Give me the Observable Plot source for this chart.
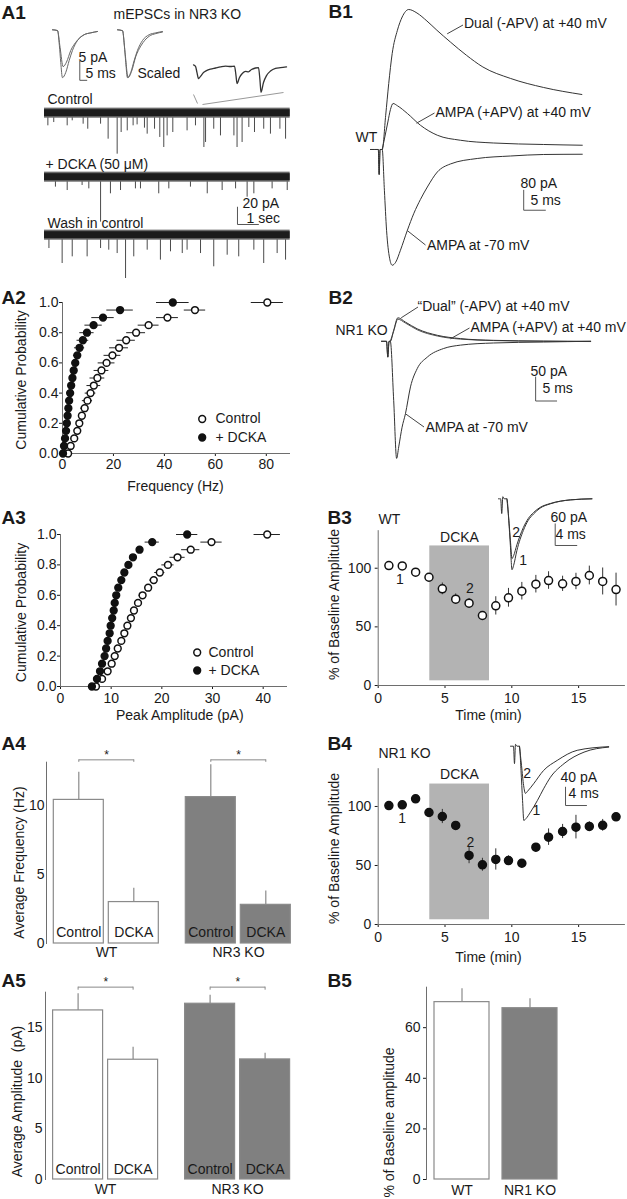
<!DOCTYPE html>
<html><head><meta charset="utf-8">
<script src="https://cdn.jsdelivr.net/npm/d3@7"></script>
<script src="https://cdn.jsdelivr.net/npm/@observablehq/plot@0.6"></script>
<style>
html,body{margin:0;padding:0;background:#fff;}
#fig{position:relative;width:627px;height:1199px;overflow:hidden;background:#fff;}
</style></head><body><div id="fig"></div>
<script>
// ================= DATA =================
// A1 average mEPSC (ms, pA)
const a1CtrlT = [0, 3.6, 4.9, 5.9, 7.1, 9.5, 11.9, 14.3, 17.9, 22.6, 27.4, 32.1];
const a1CtrlI = [0, -0.2, -4.1, -8.6, -12.6, -11.2, -8.1, -5.4, -2.8, -1.3, -0.8, -0.45];
const a1DckaT = [0, 3.6, 5.4, 7.6, 10.0, 13.1, 16.6, 22.6, 27.4, 32.1];
const a1DckaI = [0, -0.2, -4.6, -9.7, -8.5, -5.4, -3.3, -1.3, -0.8, -0.45];
const a1ScaledI = [0, -0.26, -6.0, -12.6, -11.0, -7.0, -4.3, -1.7, -1.0, -0.6];
// A1 expanded segment (ms, pA)
const a1ExpT = [0, 2, 3.5, 5, 7, 10, 13, 17, 22, 27, 32, 37, 41, 42.5, 43.5, 46, 49, 52, 55, 58, 62, 65, 66.5, 67.5, 70, 73, 77, 82, 87, 93];
const a1ExpI = [0.4, 0, -1.6, -3.2, -2.6, -1.6, -1.1, -0.7, -0.4, -0.1, 0.1, 0, 0.1, -2.4, -4.5, -2.9, -1.8, -1.3, -1.4, -0.8, -0.4, -0.3, -3.7, -6.8, -4.2, -2.4, -1.2, -0.5, -0.3, -0.1];
// A1 continuous recordings: event times (s) and amplitudes (pA)
const a1Duration = 11.7, a1Noise = 4;
const a1CtrlEvT = [0.16, 0.44, 1.08, 1.32, 1.84, 2.06, 2.67, 3.03, 3.46, 3.65, 3.94, 4.22, 4.41, 4.76, 4.89, 5.24, 5.49, 5.68, 5.84, 6.11, 6.79, 7.19, 7.59, 7.67, 8.06, 8.38, 9.02, 9.17, 9.41, 9.73, 10.0, 10.44, 10.76, 11.21, 11.48];
const a1CtrlEvA = [14.6, 10.8, 14.6, 8.8, 12.7, 18.5, 12.7, 30, 47.3, 22.3, 20.4, 14.6, 13.5, 17.3, 24.2, 18.5, 28, 39.6, 26.2, 22.3, 20.4, 14.6, 39.6, 33.8, 18.5, 26.2, 26.2, 39.6, 33.8, 16.5, 22.3, 18.5, 24.2, 18.5, 30];
const a1DckaEvT = [0.52, 1.08, 1.79, 2.11, 2.67, 3.14, 3.62, 4.33, 4.57, 5.44, 5.92, 6.95, 7.75, 8.46, 9.10, 9.65, 9.97, 10.84, 11.56];
const a1DckaEvA = [11.5, 15.4, 9.6, 13.5, 51.9, 19.2, 15.4, 13.5, 13.5, 19.2, 13.5, 11.5, 19.2, 15.4, 13.5, 23.1, 19.2, 13.5, 15.4];
const a1WashEvT = [0.21, 0.84, 1.32, 2.03, 2.67, 3.06, 3.46, 3.86, 4.25, 4.89, 5.52, 6.0, 6.56, 6.79, 7.43, 8.06, 8.70, 9.25, 9.97, 10.44, 11.08, 11.48];
const a1WashEvA = [15.4, 32.7, 25, 25, 15.4, 17.3, 21.2, 50, 25, 17.3, 28.8, 19.2, 21.2, 17.3, 21.2, 36.5, 23.1, 25, 17.3, 32.7, 21.2, 28.8];

// B1 WT evoked currents (ms, pA)
const b1DualT = [0, 1.8, 2.0, 2.2, 2.7, 3.5, 4.2, 5.0, 6.2, 7.3, 8.8, 10.7, 13.0, 15.3, 18.4, 22.1, 25.9, 32.3, 39.9, 48.7];
const b1DualI = [0, 0, -100, 0, 0, 137, 264, 384, 477, 530, 560, 546, 514, 477, 430, 377, 330, 284, 248, 220];
const b1AmpaT = [2.7, 3.3, 4.0, 4.6, 5.2, 6.2, 8.5, 11.5, 15.4, 20.7, 28.3, 39.9, 48.8];
const b1AmpaI = [0, 50, 110, 160, 184, 175, 144, 97, 57, 37, 26, 20, 17];
const b1M70T = [0, 1.8, 2.0, 2.2, 2.7, 3.2, 3.7, 4.4, 5.0, 5.8, 6.9, 8.5, 10.0, 11.5, 13.1, 15.4, 18.4, 24.6, 32.3, 39.9, 48.8];
const b1M70I = [0, 0, -100, 0, 0, -163, -323, -435, -463, -451, -403, -323, -255, -200, -150, -90, -58, -36, -26, -20, -19];
// B2 NR1 KO evoked currents (ms, pA)
const b2DualT = [0, 1.2, 1.5, 1.8, 2.1, 2.9, 3.9, 5.7, 8.5, 13.3, 18.8, 26.7, 38.6, 49.8];
const b2DualI = [0, 0, -33, 0, 0, 23, 49, 40, 26, 12.5, 5.6, 2, 0.5, 0];
const b2AmpaT = [2.1, 2.9, 3.9, 5.7, 8.5, 13.3, 18.8, 26.7, 38.6, 49.8];
const b2AmpaI = [0, 21, 46, 38, 24, 11, 4.5, 1.5, 0, -0.5];
const b2M70T = [0, 1.2, 1.5, 1.8, 2.1, 2.9, 3.6, 4.1, 4.9, 5.7, 6.9, 8.5, 10.9, 14.8, 18.8, 26.7, 38.6, 49.8];
const b2M70I = [0, 0, -33, 0, 0, -123, -244, -220, -179, -151, -95, -57, -33, -15, -8, -3.5, -1.5, 0];

// A2 / A3 cumulative distributions
const cumProb = [0, 0.05, 0.1, 0.15, 0.2, 0.25, 0.3, 0.35, 0.4, 0.45, 0.5, 0.55, 0.6, 0.65, 0.7, 0.75, 0.8, 0.85, 0.9, 0.95, 1.0];
const a2CtrlFreq = [2.2, 3.2, 4.6, 5.8, 6.6, 7.6, 8.7, 9.8, 11.0, 12.3, 13.7, 15.3, 17.3, 19.6, 22.2, 25.0, 28.9, 33.8, 41.2, 52.0, 80.4];
const a2CtrlErr = [0.5, 0.6, 0.7, 0.8, 1.0, 1.2, 1.6, 2.0, 2.1, 2.7, 2.9, 2.9, 3.3, 3.3, 3.7, 3.6, 3.7, 4.1, 4.3, 4.2, 6.3];
const a2DckaFreq = [0.2, 0.6, 1.0, 1.4, 1.7, 2.0, 2.3, 2.6, 3.0, 3.4, 3.9, 4.4, 5.0, 5.8, 6.7, 8.0, 9.6, 12.2, 15.9, 22.6, 43.3];
const a2DckaErr = [0.2, 0.3, 0.3, 0.4, 0.4, 0.5, 0.5, 0.6, 0.7, 0.8, 0.9, 1.0, 1.2, 1.5, 2.0, 2.3, 2.8, 3.4, 4.4, 5.2, 6.4];
const a3CtrlAmp = [7.0, 8.2, 9.3, 10.1, 10.7, 11.3, 12.0, 12.6, 13.2, 13.9, 14.5, 15.3, 16.2, 17.3, 18.4, 19.6, 21.2, 23.1, 25.7, 29.8, 40.8];
const a3CtrlErr = [0.3, 0.3, 0.4, 0.4, 0.4, 0.5, 0.5, 0.5, 0.5, 0.6, 0.6, 0.6, 0.7, 0.7, 0.8, 1.0, 1.2, 1.5, 1.8, 2.1, 2.6];
const a3DckaAmp = [6.2, 7.2, 7.8, 8.2, 8.7, 9.0, 9.3, 9.7, 9.9, 10.2, 10.5, 10.7, 11.0, 11.4, 12.0, 12.6, 13.4, 14.3, 15.6, 18.1, 25.0];
const a3DckaErr = [0.2, 0.2, 0.2, 0.2, 0.2, 0.2, 0.2, 0.2, 0.2, 0.2, 0.2, 0.2, 0.2, 0.2, 0.3, 0.3, 0.3, 0.3, 0.4, 1.4, 2.1];

// B3 / B4 time courses
const timeMin = [0.8, 1.8, 2.8, 3.8, 4.8, 5.8, 6.8, 7.8, 8.8, 9.75, 10.75, 11.8, 12.75, 13.8, 14.8, 15.8, 16.8, 17.8];
const b3Amp = [102.3, 102, 96.6, 92.3, 82.4, 73.6, 70.2, 59.7, 67.9, 74.8, 80.4, 86.4, 89.5, 86.7, 88.7, 93.8, 88.7, 81.8];
const b3Err = [1, 1, 1.5, 2, 5, 4.5, 4, 2, 7.8, 8, 7.5, 7.5, 7.5, 6.5, 7, 8, 11.5, 14];
const b4Amp = [100.8, 101.4, 106.5, 94.9, 91.5, 83.9, 58.5, 50.6, 55.1, 54.2, 51.9, 65.5, 74, 78.8, 82.5, 83.1, 84, 91.2];
const b4Err = [3, 3, 2, 3, 6, 3, 7, 5.5, 9, 4, 2, 2, 7, 6, 10, 4, 5, 3];
const dckaStart = 3.86, dckaEnd = 8.33, dckaLo = 4, dckaHi = 119;
// B3 / B4 inset traces (ms, pA)
const b3Tr1T = [0, 0.4, 0.6, 0.8, 1.05, 1.55, 1.9, 2.2, 2.5, 2.8, 3.4, 4.6, 5.5, 6.5, 7.7, 9.6, 13.3, 17.3];
const b3Tr1I = [0, 0, -41, 6, 0, 0, -60, -130, -197, -185, -144, -88, -60, -42, -26, -14, -3, 0];
const b3Tr2T = [1.55, 1.9, 2.2, 2.5, 2.8, 3.4, 4.6, 5.5, 6.5, 7.7, 9.6, 13.3, 17.3];
const b3Tr2I = [0, -55, -115, -166, -158, -128, -80, -55, -38, -24, -13, -3, 0];
const b4Tr1T = [0, 0.57, 0.76, 0.95, 1.24, 1.7, 2.0, 2.3, 2.53, 2.95, 3.8, 5.1, 6.3, 7.6, 10.2, 14.0, 18.7];
const b4Tr1I = [0, 0, -38, 4, 0, 0, -53, -119, -162, -158, -144, -119, -93, -68, -38, -13, -2];
const b4Tr2T = [1.7, 2.1, 2.5, 2.86, 3.2, 4.4, 6.3, 8.9, 12.7, 18.7];
const b4Tr2I = [0, -42, -86, -103, -99, -82, -53, -31, -9, -1];

// A4 / A5 bars
const barGroups = ["WT", "NR3 KO"];
const barConds = ["Control", "DCKA"];
const barGroup = ["WT", "WT", "NR3 KO", "NR3 KO"];
const barCond = ["Control", "DCKA", "Control", "DCKA"];
const freqMean = [10.4, 3.0, 10.6, 2.8];
const freqSem = [2.0, 1.0, 2.35, 1.0];
const ampMean = [16.7, 11.83, 17.36, 11.86];
const ampSem = [1.65, 1.24, 0.84, 0.62];
// B5 bars
const b5Group = ["WT", "NR1 KO"];
const b5Mean = [70.1, 67.7];
const b5Sem = [5.3, 3.7];
// scale bars [amplitude, time]
const a1InsetBar = [5, 5], a1TraceBar = [20, 1], b1Bar = [80, 5], b2Bar = [50, 5], b3Bar = [60, 4], b4Bar = [40, 4];

// ================= DRAWING =================
const FONT = "'Liberation Sans', Arial, Helvetica, sans-serif";
const INK = "#1a1a1a", AX = "#6e6e6e", TRACE = "#333";
const baseStyle = {background: "transparent", overflow: "visible", fontFamily: FONT, fontSize: "14px", color: INK};
const fig = document.getElementById("fig");
function put(svg, left, top) {
  svg.style.position = "absolute"; svg.style.left = left + "px"; svg.style.top = top + "px";
  svg.style.maxWidth = "none";
  fig.appendChild(svg);
}
const pts = (T, I) => T.map((t, k) => ({t, i: I[k]}));
const trace = (T, I, stroke = TRACE, w = 1) => Plot.line(pts(T, I), {x: "t", y: "i", stroke, strokeWidth: w, curve: "monotone-x"});
const scaleBar = (t0, i0, bar, stroke = "#555") =>
  Plot.line([{t: t0, i: i0 + bar[0]}, {t: t0, i: i0}, {t: t0 + bar[1], i: i0}], {x: "t", y: "i", stroke, strokeWidth: 1});
function tracePlot(left, top, width, height, xd, yd, marks) {
  put(Plot.plot({width, height, margin: 0, x: {domain: xd, axis: null}, y: {domain: yd, axis: null}, style: baseStyle, marks}), left, top);
}

// ---- A1 ----
tracePlot(51.7, 25, 46.2, 57, [0, 33], [-13.87, 1.13], [
  trace(a1CtrlT, a1CtrlI, "#666"), trace(a1DckaT, a1DckaI, "#666"),
  scaleBar(19.5, -13.3, a1InsetBar)
]);
tracePlot(117.3, 25, 46.2, 57, [0, 33], [-13.87, 1.13], [
  trace(a1CtrlT, a1CtrlI, "#666"), trace(a1DckaT, a1ScaledI, "#666")
]);
tracePlot(193, 58, 93, 38, [0, 93], [-7.9, 2.1], [trace(a1ExpT, a1ExpI, "#333", 1.3)]);
function longTrace(top, yd, evT, evA, extra = []) {
  const ev = evT.map((t, k) => ({t, a: evA[k]}));
  const band = [{t0: 0, t1: a1Duration}];
  tracePlot(44, top, 245.7, (yd[1] - yd[0]) * 0.867, [0, a1Duration], yd, [
    Plot.ruleX(ev, {x: "t", y1: () => 0, y2: d => -d.a, stroke: "#4a4a4a", strokeWidth: 1}),
    Plot.rect(band, {x1: "t0", x2: "t1", y1: () => -a1Noise - 1.8, y2: () => a1Noise + 1.8, fill: "#6a6a6a"}),
    Plot.rect(band, {x1: "t0", x2: "t1", y1: () => -a1Noise, y2: () => a1Noise, fill: "#1c1c1c"}),
    ...extra
  ]);
}
longTrace(103.6, [-50, 10], a1CtrlEvT, a1CtrlEvA);
longTrace(168, [-55, 10], a1DckaEvT, a1DckaEvA, [scaleBar(9.19, -54.6, a1TraceBar)]);
longTrace(226.3, [-55, 10], a1WashEvT, a1WashEvA);

// ---- B1 ----
tracePlot(370, 4.3, 212.66, 275, [0, 49], [-520, 580], [
  trace(b1DualT, b1DualI), trace(b1AmpaT, b1AmpaI), trace(b1M70T, b1M70I),
  scaleBar(35.3, -243, b1Bar)
]);
// ---- B2 ----
tracePlot(381, 300, 210, 170, [0, 50], [-269.2, 85], [
  trace(b2AmpaT, b2AmpaI, "#555"), trace(b2DualT, b2DualI), trace(b2M70T, b2M70I),
  scaleBar(36.7, -124.4, b2Bar)
]);

// ---- A2 / A3 ----
function cumPanel(top, height, mt, mb, ml, mr, xMax, xTicks, tp, ctrlV, ctrlE, dckaV, dckaE) {
  const ctrl = cumProb.map((p, k) => ({p, v: ctrlV[k], e: ctrlE[k]}));
  const dcka = cumProb.map((p, k) => ({p, v: dckaV[k], e: dckaE[k]}));
  put(Plot.plot({
    width: 310, height, marginTop: mt, marginBottom: mb, marginLeft: ml, marginRight: mr,
    x: {domain: [0, xMax], ticks: xTicks, tickSize: 3, tickPadding: tp, label: null},
    y: {domain: [0, 1], ticks: [0, 0.2, 0.4, 0.6, 0.8, 1], tickFormat: ".1f", tickSize: 3, tickPadding: 1, label: null},
    style: baseStyle,
    marks: [
      Plot.ruleY([0], {stroke: AX}), Plot.ruleX([0], {stroke: AX}),
      Plot.ruleY(ctrl, {y: "p", x1: d => d.v - d.e, x2: d => d.v + d.e, stroke: "#222"}),
      Plot.ruleY(dcka, {y: "p", x1: d => d.v - d.e, x2: d => d.v + d.e, stroke: "#222"}),
      Plot.dot(ctrl, {x: "v", y: "p", r: 3.4, fill: "white", stroke: "#111"}),
      Plot.dot(dcka, {x: "v", y: "p", r: 3.4, fill: "#111", stroke: "#111"})
    ]
  }), 0, top);
}
cumPanel(280, 220, 22, 47, 62, 20, 89.5, [0, 20, 40, 60, 80], 3, a2CtrlFreq, a2CtrlErr, a2DckaFreq, a2DckaErr);
cumPanel(512, 210, 22, 36, 60, 23, 44.8, [0, 10, 20, 30, 40], 4, a3CtrlAmp, a3CtrlErr, a3DckaAmp, a3DckaErr);

// ---- B3 / B4 ----
function timePanel(top, mt, mb, amp, err, filled) {
  const data = timeMin.map((t, k) => ({t, v: amp[k], e: err[k]}));
  put(Plot.plot({
    width: 317, height: 215, marginLeft: 67.7, marginRight: 2.1, marginTop: mt, marginBottom: mb,
    x: {domain: [0, 18.5], ticks: [0, 5, 10, 15], tickSize: 3, tickPadding: 5, label: null},
    y: {domain: [0, 132], ticks: [0, 50, 100], tickSize: 3, tickPadding: 4, label: null},
    style: baseStyle,
    marks: [
      Plot.rect([{s: dckaStart, e: dckaEnd}], {x1: "s", x2: "e", y1: () => dckaLo, y2: () => dckaHi, fill: "#b3b3b3"}),
      Plot.ruleY([0], {stroke: AX}), Plot.ruleX([0], {stroke: AX}),
      Plot.ruleX(data, {x: "t", y1: d => d.v - d.e, y2: d => d.v + d.e, stroke: "#333"}),
      Plot.dot(data, {x: "t", y: "v", r: 4, fill: filled ? "#111" : "white", stroke: "#111"})
    ]
  }), 310, top);
}
timePanel(500, 30.2, 30, b3Amp, b3Err, false);
timePanel(740, 28.2, 31, b4Amp, b4Err, true);
tracePlot(498.3, 490, 94.5, 85, [0, 17.5], [-213.06, 23.06], [
  trace(b3Tr1T, b3Tr1I), trace(b3Tr2T, b3Tr2I), scaleBar(10.5, -129.7, b3Bar)
]);
tracePlot(510, 738, 99.75, 87, [0, 19], [-173.1, 16.8], [
  trace(b4Tr1T, b4Tr1I), trace(b4Tr2T, b4Tr2I), scaleBar(10.48, -129.5, b4Bar)
]);

// ---- A4 / A5 ----
function barPanel(top, height, mt, mb, ml, mr, mean, sem, yTop, ticks, tp, lblDy, grpDy, brY, brTick, starY) {
  const data = barCond.map((c, k) => ({cond: c, group: barGroup[k], m: mean[k], e: sem[k]}));
  put(Plot.plot({
    width: 310, height, marginTop: mt, marginBottom: mb, marginLeft: ml, marginRight: mr,
    fx: {domain: barGroups, paddingInner: 0.088, paddingOuter: 0, axis: null, label: null},
    x: {domain: barConds, paddingInner: 0.09, paddingOuter: 0.13, axis: null},
    y: {domain: [0, yTop], axis: null},
    color: {domain: barGroups, range: ["#ffffff", "#808080"]},
    style: baseStyle,
    marks: [
      Plot.frame({anchor: "left", facetAnchor: "left", stroke: AX}),
      Plot.axisY({ticks, tickSize: 0, tickPadding: tp, label: null}),
      Plot.ruleX(data, {fx: "group", x: "cond", y1: "m", y2: d => d.m + d.e, stroke: "#8a8a8a", strokeWidth: 1.2}),
      Plot.barY(data, {fx: "group", x: "cond", y: "m", fill: "group", stroke: "#8a8a8a", strokeWidth: 1.2}),
      Plot.text(data, {fx: "group", x: "cond", y: () => 0, dy: lblDy, text: "cond", fill: INK}),
      Plot.link(barGroups, {fx: d => d, x1: () => "Control", x2: () => "DCKA", y1: () => brY, y2: () => brY, stroke: "#888"}),
      Plot.ruleX(data, {fx: "group", x: "cond", y1: () => brY - brTick, y2: () => brY, stroke: "#888"}),
      Plot.text(barGroups, {fx: d => d, x: () => "Control", dx: 27.8, y: () => starY, text: () => "*", fontSize: 12, fill: INK}),
      Plot.text(barGroups, {fx: d => d, text: d => d, frameAnchor: "bottom", dy: grpDy, fill: INK})
    ]
  }), 0, top);
}
barPanel(740, 230, 21.7, 27, 45.7, 11.4, freqMean, freqSem, 13.13, [0, 5, 10], 2, -11, 13, 13.3, 0.18, 13.65);
barPanel(975, 224, 16.7, 20, 44.4, 12.6, ampMean, ampSem, 18.5, [0, 5, 10, 15], 3, -10, 14, 19.0, 0.3, 19.45);

// ---- B5 ----
{
  const data = b5Group.map((g, k) => ({g, m: b5Mean[k], e: b5Sem[k]}));
  put(Plot.plot({
    width: 317, height: 224, marginTop: 11.7, marginBottom: 20, marginLeft: 116, marginRight: 61.3,
    x: {domain: b5Group, paddingInner: 0.19, paddingOuter: 0.122, axis: null},
    y: {domain: [0, 76], axis: null},
    color: {domain: b5Group, range: ["#ffffff", "#808080"]},
    style: baseStyle,
    marks: [
      Plot.frame({anchor: "left", stroke: AX}),
      Plot.axisY({ticks: [0, 20, 40, 60], tickSize: 3, tickPadding: 3, label: null}),
      Plot.ruleX(data, {x: "g", y1: "m", y2: d => d.m + d.e, stroke: "#8a8a8a", strokeWidth: 1.2}),
      Plot.barY(data, {x: "g", y: "m", fill: "g", stroke: "#8a8a8a", strokeWidth: 1.2}),
      Plot.text(data, {x: "g", y: () => 0, dy: 11, text: "g", fill: INK})
    ]
  }), 310, 975);
}

// ---- annotation layer (labels, leaders) ----
const panelLabels = [["A1", 1, 12], ["B1", 328, 11], ["A2", 1, 297], ["B2", 328, 297], ["A3", 1, 517], ["B3", 327, 517],
  ["A4", 1, 743], ["B4", 327, 743], ["A5", 1, 980], ["B5", 327, 980]];
const notesStart = [
  ["mEPSCs in NR3 KO", 113, 14], ["5 pA", 78, 57], ["5 ms", 85, 73], ["Scaled", 137, 73],
  ["Control", 47, 99], ["+ DCKA (50 \u03bcM)", 45, 164], ["20 pA", 242, 203], ["1 sec", 246, 218], ["Wash in control", 47, 223],
  ["WT", 355, 137], ["Dual (-APV) at +40 mV", 463.5, 23.5], ["AMPA (+APV) at +40 mV", 435, 112.5], ["AMPA at -70 mV", 426.5, 245],
  ["80 pA", 520, 183], ["5 ms", 530, 200.5],
  ["NR1 KO", 335, 330], ["\u201cDual\u201d (-APV) at +40 mV", 417, 306], ["AMPA (+APV) at +40 mV", 470, 327], ["AMPA at -70 mV", 425, 427],
  ["50 pA", 530, 371], ["5 ms", 542, 388.5],
  ["Control", 215, 418.5], ["+ DCKA", 215, 437], ["Control", 208, 652], ["+ DCKA", 208, 670],
  ["WT", 378, 519.5], ["60 pA", 550, 517], ["4 ms", 555, 534.5],
  ["NR1 KO", 378, 753], ["40 pA", 560, 777], ["4 ms", 568, 793.5]
];
const notesMiddle = [
  ["DCKA", 459, 537], ["DCKA", 459, 774],
  ["1", 399.3, 579.3], ["2", 469.3, 588.3], ["2", 515.7, 531.7], ["1", 522.7, 560],
  ["1", 401.7, 818.3], ["2", 470, 841.7], ["2", 526.7, 773.3], ["1", 536, 810],
  ["Frequency (Hz)", 175, 486], ["Peak Amplitude (pA)", 179.3, 715], ["Time (min)", 488, 715], ["Time (min)", 488, 957]
];
const titlesY = [
  ["Cumulative Probability", 21.5, 379.5], ["Cumulative Probability", 21.5, 612],
  ["Average Frequency (Hz)", 19, 862], ["Average Amplitude  (pA)", 17.5, 1101],
  ["% of Baseline Amplitude", 334, 604], ["% of Baseline Amplitude", 334, 848], ["% of Baseline amplitude", 389.3, 1122]
];
const leaders = [
  [446.7, 33.3, 462.5, 24.5], [416, 122.7, 434, 112.5], [406.7, 230, 425, 244.5],
  [400.7, 317.3, 417.5, 306.5], [450, 338.3, 469, 327.5], [405, 413.3, 423.5, 426.5]
];
const zoomLines = [[193, 94, 197, 103], [202, 104, 283, 92]];
const legendOpen = [[201.7, 418.5], [196.7, 652]];
const legendFilled = [[201.7, 437], [196.7, 670]];
const ov = Plot.plot({
  width: 627, height: 1199, margin: 0,
  x: {domain: [0, 627], range: [0, 627], axis: null},
  y: {domain: [0, 1199], range: [0, 1199], axis: null},
  style: {...baseStyle, pointerEvents: "none"},
  marks: [
    Plot.link(zoomLines, {x1: d => d[0], y1: d => d[1], x2: d => d[2], y2: d => d[3], stroke: "#999"}),
    Plot.link(leaders, {x1: d => d[0], y1: d => d[1], x2: d => d[2], y2: d => d[3], stroke: "#444"}),
    Plot.dot(legendOpen, {x: d => d[0], y: d => d[1], r: 3.4, fill: "white", stroke: "#111"}),
    Plot.dot(legendFilled, {x: d => d[0], y: d => d[1], r: 3.4, fill: "#111", stroke: "#111"}),
    Plot.text(panelLabels, {x: d => d[1], y: d => d[2], text: d => d[0], textAnchor: "start", fontWeight: "bold", fontSize: 19, fill: INK}),
    Plot.text(notesStart, {x: d => d[1], y: d => d[2], text: d => d[0], textAnchor: "start", fill: INK}),
    Plot.text(notesMiddle, {x: d => d[1], y: d => d[2], text: d => d[0], textAnchor: "middle", fill: INK}),
    Plot.text(titlesY, {x: d => d[1], y: d => d[2], text: d => d[0], textAnchor: "middle", rotate: -90, fill: INK})
  ]
});
put(ov, 0, 0);
</script>
</body></html>
